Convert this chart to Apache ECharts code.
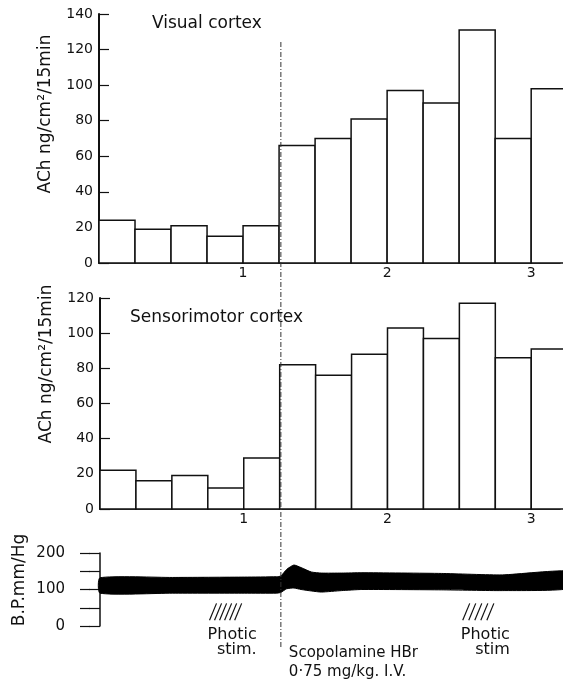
<!DOCTYPE html>
<html>
<head>
<meta charset="utf-8">
<title>ACh release</title>
<script src="https://cdn.jsdelivr.net/npm/echarts@6.0.0/dist/echarts.min.js"></script>
<style>
  html, body { margin: 0; padding: 0; background: #fff; }
  #chart { width: 563px; height: 682px; }
</style>
</head>
<body>
<div id="chart"></div>
<script>
// 15 min collection periods, start time in hours
const binStart = [0, 0.25, 0.5, 0.75, 1.0, 1.25, 1.5, 1.75, 2.0, 2.25, 2.5, 2.75, 3.0];
const binWidth = 0.25;
const visualACh = [24, 19, 21, 15, 21, 66, 70, 81, 97, 90, 131, 70, 98];
const sensoriACh = [22, 16, 19, 12, 29, 82, 76, 88, 103, 97, 117, 86, 91];

// blood pressure trace (band between diastolic / systolic)
const bpHours = [0, 0.5, 1.0, 1.22, 1.25, 1.29, 1.34, 1.39, 1.46, 1.53, 1.67, 1.81, 2.36, 2.78, 3.25];
const bpLow = [90, 90, 90, 90, 92, 102, 104, 100, 96, 93, 97, 100, 99, 97, 103];
const bpHigh = [132, 133, 134, 135, 137, 155, 167, 160, 148, 145, 145, 146, 144, 140, 150];

const photicStim = [[0.75, 1.0], [2.5, 2.75]];
const photicLabels = ['Photic\nstim.', 'Photic\nstim'];
const injectionHour = 1.25;
const injectionLabel = 'Scopolamine HBr\n0·75 mg/kg. I.V.';

const FONT = 'DejaVu Sans';
const INK = '#111';
const X_MAX = 3.2; // axis is cut by the page edge, last bin runs past it

const chart = echarts.init(document.getElementById('chart'));

function renderBin(params, api) {
  const x0 = api.value(0);
  const v = api.value(1);
  const p0 = api.coord([x0, 0]);
  const p1 = api.coord([x0 + binWidth, v]);
  return {
    type: 'rect',
    shape: { x: p0[0], y: p1[1], width: p1[0] - p0[0], height: p0[1] - p1[1] },
    style: { fill: '#fff', stroke: INK, lineWidth: 1.5 }
  };
}

// whole BP band as one filled outline
function renderBand(params, api) {
  const upper = bpHours.map((h, i) => api.coord([h, bpHigh[i]]));
  const lower = bpHours.map((h, i) => api.coord([h, bpLow[i]])).reverse();
  return {
    type: 'polygon',
    shape: { points: upper.concat(lower), smooth: 0.18 },
    style: { fill: '#000', stroke: '#000', lineWidth: 1 }
  };
}

function renderStim(params, api) {
  const s = api.value(0), e = api.value(1);
  const a = api.coord([s, 16]);
  const b = api.coord([e, 62]);
  const base = api.coord([e, 0]);
  const children = [];
  const n = params.dataIndex === 0 ? 6 : 5;
  const step = (b[0] - a[0] - 6) / n;
  for (let k = 0; k < n; k++) {
    const x = a[0] + 1 + k * step;
    children.push({
      type: 'line',
      shape: { x1: x, y1: a[1], x2: x + 7, y2: b[1] },
      style: { stroke: INK, lineWidth: 1.2 }
    });
  }
  children.push({
    type: 'text',
    style: {
      text: photicLabels[params.dataIndex], x: b[0] + 12, y: base[1] + 1,
      align: 'right', verticalAlign: 'top', fontSize: 16, lineHeight: 15,
      fontFamily: FONT, fill: INK
    }
  });
  return { type: 'group', children: children };
}

function renderInjection(params, api) {
  const h = api.value(0);
  const top = api.coord([h, 1]);
  const bot = api.coord([h, 0]);
  return {
    type: 'group',
    children: [
      {
        type: 'line',
        shape: { x1: top[0], y1: top[1], x2: bot[0], y2: bot[1] },
        style: { stroke: '#333', lineWidth: 1, lineDash: [5, 2, 1, 2] }
      },
      {
        type: 'text',
        style: {
          text: injectionLabel, x: bot[0] + 8, y: bot[1] - 4,
          align: 'left', verticalAlign: 'top', fontSize: 15, lineHeight: 19,
          fontFamily: FONT, fill: INK
        }
      }
    ]
  };
}

function hourAxis(gridIndex) {
  return {
    type: 'value', gridIndex: gridIndex, min: 0, max: X_MAX, interval: 1,
    axisLine: { lineStyle: { color: INK, width: 1.5 } },
    axisTick: { show: false },
    splitLine: { show: false },
    axisLabel: {
      margin: 3, fontSize: 14, fontFamily: FONT, color: INK,
      formatter: v => (v === 1 || v === 2 || v === 3) ? String(v) : ''
    }
  };
}

function achAxis(gridIndex, max) {
  return {
    type: 'value', gridIndex: gridIndex, min: 0, max: max, interval: 20,
    axisLine: { show: true, lineStyle: { color: INK, width: 2 } },
    axisTick: { show: true, inside: true, length: 10, lineStyle: { color: INK, width: 1.2 } },
    splitLine: { show: false },
    axisLabel: { margin: 6, fontSize: 14, fontFamily: FONT, color: INK }
  };
}

const option = {
  backgroundColor: '#fff',
  animation: false,
  title: [
    { text: 'Visual cortex', left: 152, top: 15, padding: 0,
      textStyle: { fontSize: 17, fontWeight: 'normal', fontFamily: FONT, color: INK } },
    { text: 'Sensorimotor cortex', left: 130, top: 309, padding: 0,
      textStyle: { fontSize: 17, fontWeight: 'normal', fontFamily: FONT, color: INK } }
  ],
  graphic: [
    { type: 'text', x: 46, y: 114, rotation: Math.PI / 2,
      style: { text: 'ACh ng/cm²/15min', align: 'center', verticalAlign: 'middle',
        fontSize: 17, fontFamily: FONT, fill: INK } },
    { type: 'text', x: 47, y: 364, rotation: Math.PI / 2,
      style: { text: 'ACh ng/cm²/15min', align: 'center', verticalAlign: 'middle',
        fontSize: 17, fontFamily: FONT, fill: INK } },
    { type: 'text', x: 20, y: 580, rotation: Math.PI / 2,
      style: { text: 'B.P.mm/Hg', align: 'center', verticalAlign: 'middle',
        fontSize: 17, fontFamily: FONT, fill: INK } }
  ],
  grid: [
    { left: 99, right: 0, top: 14, height: 249 },
    { left: 100, right: 0, top: 298, height: 211 },
    { left: 100, right: 0, top: 553, height: 73 },
    { left: 100, right: 0, top: 42, bottom: 34 }
  ],
  xAxis: [
    hourAxis(0),
    hourAxis(1),
    { type: 'value', gridIndex: 2, min: 0, max: X_MAX, show: false },
    { type: 'value', gridIndex: 3, min: 0, max: X_MAX, show: false }
  ],
  yAxis: [
    achAxis(0, 140),
    achAxis(1, 120),
    {
      type: 'value', gridIndex: 2, min: 0, max: 200, interval: 50, position: 'left', offset: 20,
      axisLine: { show: true, lineStyle: { color: INK, width: 1.5 } },
      axisTick: { show: true, inside: false, length: 11, lineStyle: { color: INK, width: 1.2 } },
      splitLine: { show: false },
      axisLabel: { margin: 15, fontSize: 15, fontFamily: FONT, color: INK,
        formatter: v => (v % 100 === 0) ? String(v) : '' }
    },
    {
      type: 'value', gridIndex: 2, min: 0, max: 200, interval: 50, position: 'left', offset: 20,
      axisLine: { show: false },
      axisTick: { show: true, inside: true, length: 10, lineStyle: { color: INK, width: 1.2 } },
      splitLine: { show: false },
      axisLabel: { show: false }
    },
    { type: 'value', gridIndex: 3, min: 0, max: 1, show: false }
  ],
  series: [
    {
      type: 'custom', name: 'Visual cortex', xAxisIndex: 0, yAxisIndex: 0,
      renderItem: renderBin, encode: { x: 0, y: 1 }, clip: false,
      data: binStart.map((s, i) => [s, visualACh[i]])
    },
    {
      type: 'custom', name: 'Sensorimotor cortex', xAxisIndex: 1, yAxisIndex: 1,
      renderItem: renderBin, encode: { x: 0, y: 1 }, clip: false,
      data: binStart.map((s, i) => [s, sensoriACh[i]])
    },
    {
      type: 'custom', name: 'B.P.', xAxisIndex: 2, yAxisIndex: 2,
      renderItem: renderBand, encode: { x: 0, y: [1, 2] }, clip: false,
      data: [[bpHours[0], bpLow[0], bpHigh[0]]]
    },
    {
      type: 'custom', name: 'Photic stim', xAxisIndex: 2, yAxisIndex: 2,
      renderItem: renderStim, encode: { x: [0, 1] },
      data: photicStim
    },
    {
      type: 'custom', name: 'Injection', xAxisIndex: 3, yAxisIndex: 4,
      renderItem: renderInjection, encode: { x: 0 }, clip: false,
      data: [[injectionHour]]
    }
  ]
};

chart.setOption(option);
</script>
</body>
</html>
